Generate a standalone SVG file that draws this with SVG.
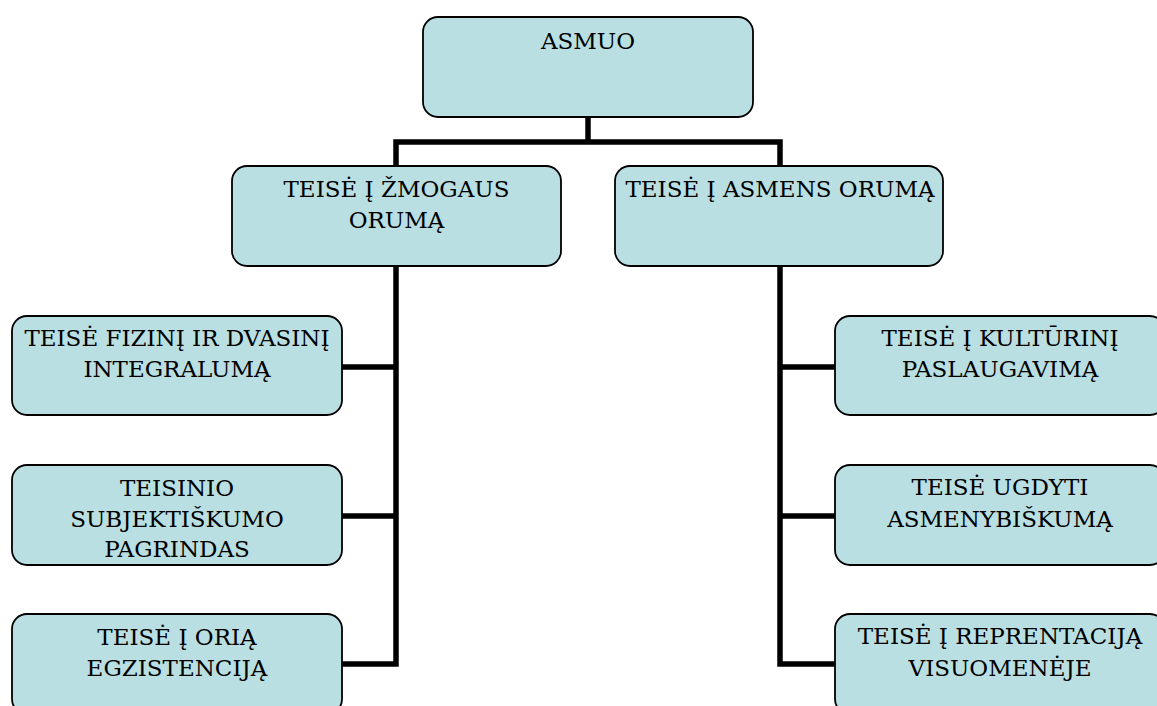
<svg xmlns="http://www.w3.org/2000/svg" width="1157" height="706" viewBox="0 0 1157 706">
<style>
.box{fill:#B9DFE3;stroke:#000;stroke-width:1.8}
.t{font-family:'DejaVu Serif','Liberation Serif',serif;font-size:23px;fill:#000;text-anchor:middle}
.c{fill:none;stroke:#000;stroke-width:5.5;stroke-linejoin:miter;stroke-linecap:butt}
</style>
<rect width="1157" height="706" fill="#fff"/>
<g id="connectors">
<path class="c" d="M588,117 V142"/>
<path class="c" d="M396,166 V142 H780 V166"/>
<path class="c" d="M396,266 V664 H342"/>
<path class="c" d="M342,367 H396"/>
<path class="c" d="M342,516 H396"/>
<path class="c" d="M780,266 V664 H835"/>
<path class="c" d="M780,367 H835"/>
<path class="c" d="M780,516 H835"/>
</g>
<g id="asmuo">
<rect class="box" x="423" y="17" width="330" height="100" rx="15"/>
<text class="t" x="588" y="49">ASMUO</text>
</g>
<g id="zmogaus-oruma">
<rect class="box" x="232" y="166" width="329" height="100" rx="15"/>
<text class="t" x="396.5" y="197">TEISĖ Į ŽMOGAUS</text>
<text class="t" x="396.5" y="228">ORUMĄ</text>
</g>
<g id="asmens-oruma">
<rect class="box" x="615" y="166" width="328" height="100" rx="15"/>
<text class="t" x="780" y="197">TEISĖ Į ASMENS ORUMĄ</text>
</g>
<g id="fizini-dvasini">
<rect class="box" x="12" y="316" width="330" height="99" rx="15"/>
<text class="t" x="177" y="346">TEISĖ FIZINĮ IR DVASINĮ</text>
<text class="t" x="177" y="377">INTEGRALUMĄ</text>
</g>
<g id="teisinio-subjektiskumo">
<rect class="box" x="12" y="465" width="330" height="100" rx="15"/>
<text class="t" x="177" y="496">TEISINIO</text>
<text class="t" x="177" y="527">SUBJEKTIŠKUMO</text>
<text class="t" x="177" y="557">PAGRINDAS</text>
</g>
<g id="oria-egzistencija">
<rect class="box" x="12" y="614" width="330" height="100" rx="15"/>
<text class="t" x="177" y="645">TEISĖ Į ORIĄ</text>
<text class="t" x="177" y="676">EGZISTENCIJĄ</text>
</g>
<g id="kulturini-paslaugavima">
<rect class="box" x="835" y="316" width="330" height="99" rx="15"/>
<text class="t" x="1000" y="346">TEISĖ Į KULTŪRINĮ</text>
<text class="t" x="1000" y="377">PASLAUGAVIMĄ</text>
</g>
<g id="ugdyti-asmenybiskuma">
<rect class="box" x="835" y="465" width="330" height="100" rx="15"/>
<text class="t" x="1000" y="495">TEISĖ UGDYTI</text>
<text class="t" x="1000" y="527">ASMENYBIŠKUMĄ</text>
</g>
<g id="reprentacija">
<rect class="box" x="835" y="614" width="330" height="100" rx="15"/>
<text class="t" x="1000" y="644">TEISĖ Į REPRENTACIJĄ</text>
<text class="t" x="1000" y="676">VISUOMENĖJE</text>
</g>
</svg>
